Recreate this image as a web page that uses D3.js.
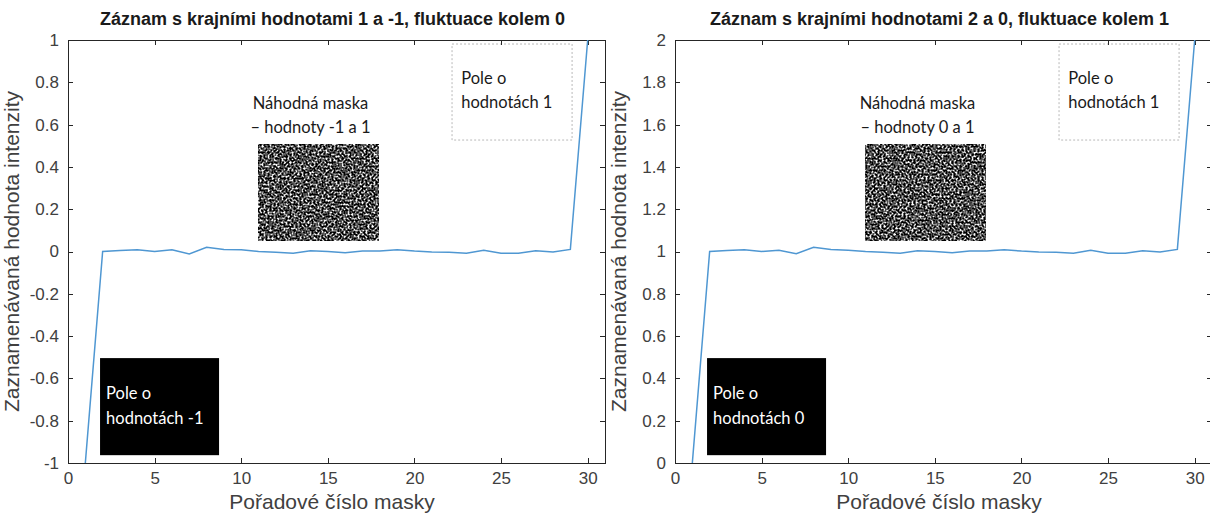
<!DOCTYPE html>
<meta charset="utf-8">
<style>
body { margin: 0; background: #fff; font-family: "Liberation Sans", Arial, sans-serif; }
.axis .domain, .axis .tick line { stroke: #262626; shape-rendering: crispEdges; }
.axis .tick text { fill: #404040; font-size: 17px; font-family: "Liberation Sans", Arial, sans-serif; }
.line { fill: none; stroke: #4f97d2; stroke-width: 1.5px; }
.title { font-size: 18px; font-weight: bold; fill: #1a1a1a; text-anchor: middle; }
.label { font-size: 21px; fill: #404040; text-anchor: middle; }
.note { font-family: Lato, "Open Sans", sans-serif; font-size: 16.5px; fill: #1a1a1a; }
</style>
<body>
<script src="https://d3js.org/d3.v7.min.js"></script>
<script>

// mask index (x) and the recorded intensity for each panel
var masks = [1, 2, 3, 4, 5, 6, 7, 8, 9, 10, 11, 12, 13, 14, 15,
             16, 17, 18, 19, 20, 21, 22, 23, 24, 25, 26, 27, 28, 29, 30];
var valuesLeft = [-1, 0, 0.005, 0.008, 0, 0.008, -0.012, 0.02, 0.01, 0.008,
                  0, -0.004, -0.008, 0.004, 0, -0.006, 0.002, 0.002, 0.008, 0.002,
                  -0.002, -0.004, -0.008, 0.006, -0.008, -0.008, 0.004, -0.002, 0.01, 1];
var valuesRight = [0, 1, 1.005, 1.008, 1, 1.006, 0.99, 1.02, 1.01, 1.006,
                   1, 0.996, 0.992, 1.004, 1, 0.994, 1.002, 1.002, 1.008, 1.002,
                   0.998, 0.996, 0.992, 1.006, 0.992, 0.992, 1.004, 0.998, 1.01, 2];

var xTicks = [0, 5, 10, 15, 20, 25, 30];
var yTicksLeft = [-1, -0.8, -0.6, -0.4, -0.2, 0, 0.2, 0.4, 0.6, 0.8, 1];
var yTickLabelsLeft = ["-1", "-0.8", "-0.6", "-0.4", "-0.2", "0", "0.2", "0.4", "0.6", "0.8", "1"];
var yTicksRight = [0, 0.2, 0.4, 0.6, 0.8, 1, 1.2, 1.4, 1.6, 1.8, 2];
var yTickLabelsRight = ["0", "0.2", "0.4", "0.6", "0.8", "1", "1.2", "1.4", "1.6", "1.8", "2"];

var titles = ["Záznam s krajními hodnotami 1 a -1, fluktuace kolem 0",
              "Záznam s krajními hodnotami 2 a 0, fluktuace kolem 1"];
var xLabel = "Pořadové číslo masky";
var yLabel = "Zaznamenávaná hodnota intenzity";
var maskText = [["Náhodná maska", "– hodnoty -1 a 1"], ["Náhodná maska", "– hodnoty 0 a 1"]];
var highText = ["Pole o", "hodnotách 1"];
var lowText = [["Pole o", "hodnotách -1"], ["Pole o", "hodnotách 0"]];

var width = 1210, height = 515;
var svg = d3.select("body").append("svg")
    .attr("width", width)
    .attr("height", height);

// speckled texture for the random mask pictures
var defs = svg.append("defs");
var f = defs.append("filter").attr("id", "noise")
    .attr("x", 0).attr("y", 0).attr("width", "100%").attr("height", "100%")
    .attr("color-interpolation-filters", "sRGB");
f.append("feTurbulence").attr("type", "fractalNoise")
    .attr("baseFrequency", 0.5).attr("numOctaves", 2).attr("seed", 7);
f.append("feColorMatrix").attr("type", "matrix")
    .attr("values", "1 0 0 0 0  1 0 0 0 0  1 0 0 0 0  0 0 0 0 1");
var ct = f.append("feComponentTransfer");
["feFuncR", "feFuncG", "feFuncB"].forEach(function(n) {
  ct.append(n).attr("type", "linear").attr("slope", 3.2).attr("intercept", -1.3);
});

function panel(i, left, yDomain, yTicks, yTickLabels, values) {
  var top = 40, bottom = 463, plotW = 537;
  var x = d3.scaleLinear().domain([0, 31]).range([left, left + plotW]);
  var y = d3.scaleLinear().domain(yDomain).range([bottom, top]);
  var y0 = yDomain[0];

  var g = svg.append("g");

  // annotations drawn behind the line
  g.append("rect")
      .attr("x", x(1.85)).attr("y", y(y0 + 0.496))
      .attr("width", x(8.72) - x(1.85)).attr("height", y(y0 + 0.037) - y(y0 + 0.496))
      .attr("fill", "#000");
  g.append("text").attr("class", "note").style("fill", "#fff")
      .attr("x", x(2.2)).attr("y", y(y0 + 0.303)).text(lowText[i][0]);
  g.append("text").attr("class", "note").style("fill", "#fff")
      .attr("x", x(2.2)).attr("y", y(y0 + 0.184)).text(lowText[i][1]);

  g.append("rect")
      .attr("x", x(22.17)).attr("y", y(y0 + 1.981))
      .attr("width", x(29.1) - x(22.17)).attr("height", y(y0 + 1.527) - y(y0 + 1.981))
      .attr("fill", "none").attr("stroke", "#b8b8b8").attr("stroke-dasharray", "2,2");
  g.append("text").attr("class", "note")
      .attr("x", x(22.7)).attr("y", y(y0 + 1.79)).text(highText[0]);
  g.append("text").attr("class", "note")
      .attr("x", x(22.7)).attr("y", y(y0 + 1.677)).text(highText[1]);

  g.append("rect")
      .attr("x", x(10.97)).attr("y", y(y0 + 1.504))
      .attr("width", x(17.9) - x(10.97)).attr("height", y(y0 + 1.054) - y(y0 + 1.504))
      .attr("filter", "url(#noise)");
  g.append("text").attr("class", "note").attr("text-anchor", "middle")
      .attr("x", x(14.0)).attr("y", y(y0 + 1.674)).text(maskText[i][0]);
  g.append("text").attr("class", "note").attr("text-anchor", "middle")
      .attr("x", x(14.0)).attr("y", y(y0 + 1.56)).text(maskText[i][1]);

  // axes, ticks inside on all four sides
  g.append("g").attr("class", "axis")
      .attr("transform", "translate(0," + bottom + ")")
      .call(d3.axisBottom(x).tickValues(xTicks).tickSizeInner(-5).tickSizeOuter(0).tickPadding(9));
  g.append("g").attr("class", "axis")
      .attr("transform", "translate(0," + top + ")")
      .call(d3.axisTop(x).tickValues(xTicks).tickSizeInner(-5).tickSizeOuter(0).tickFormat(""));
  g.append("g").attr("class", "axis")
      .attr("transform", "translate(" + left + ",0)")
      .call(d3.axisLeft(y).tickValues(yTicks).tickSizeInner(-5).tickSizeOuter(0).tickPadding(9)
        .tickFormat(function(d, k) { return yTickLabels[k]; }));
  g.append("g").attr("class", "axis")
      .attr("transform", "translate(" + (left + plotW) + ",0)")
      .call(d3.axisRight(y).tickValues(yTicks).tickSizeInner(-5).tickSizeOuter(0).tickFormat(""));

  // the recorded series
  var line = d3.line()
      .x(function(d, k) { return x(masks[k]); })
      .y(function(d) { return y(d); });
  g.append("path")
      .datum(values)
      .attr("class", "line")
      .attr("d", line);

  g.append("text").attr("class", "title")
      .attr("x", (left + left + plotW) / 2 - 4).attr("y", 25)
      .text(titles[i]);
  g.append("text").attr("class", "label")
      .attr("x", left + 264).attr("y", 509)
      .text(xLabel);
  g.append("text").attr("class", "label")
      .attr("transform", "translate(" + (left - 49) + "," + ((top + bottom) / 2) + ") rotate(-90)")
      .text(yLabel);
}

panel(0, 68, [-1, 1], yTicksLeft, yTickLabelsLeft, valuesLeft);
panel(1, 675, [0, 2], yTicksRight, yTickLabelsRight, valuesRight);

</script>
</body>
